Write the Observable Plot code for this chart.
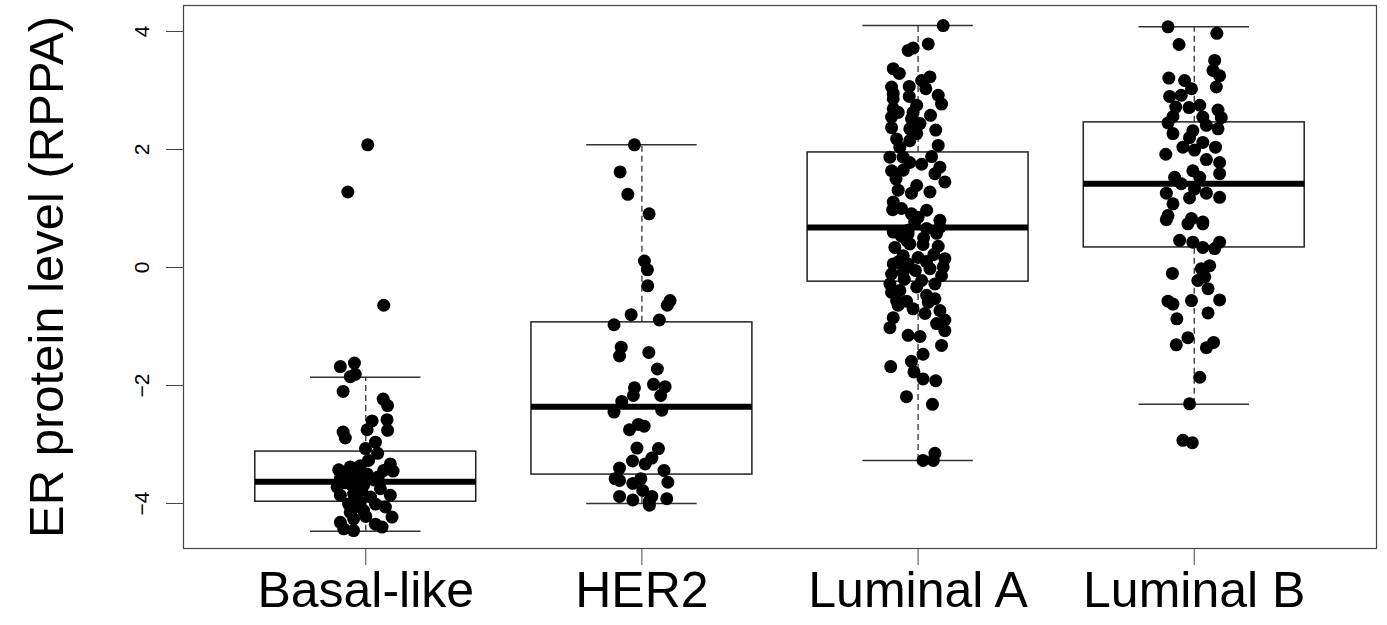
<!DOCTYPE html>
<html><head><meta charset="utf-8">
<script src="https://cdn.jsdelivr.net/npm/d3@7"></script>
<script src="https://cdn.jsdelivr.net/npm/@observablehq/plot@0.6"></script>
<style>body{margin:0;background:#fff} svg{display:block}</style>
</head><body><div id="chart"></div>
<script>
const categories = ["Basal-like", "HER2", "Luminal A", "Luminal B"];
const yTitle = "ER protein level (RPPA)";
const yTicks = [-4, -2, 0, 2, 4];

// box statistics
const whiskerLow  = [-4.47, -4.00, -3.27, -2.32];
const q1          = [-3.97, -3.51, -0.24,  0.34];
const medians     = [-3.63, -2.36,  0.68,  1.42];
const q3          = [-3.12, -0.93,  1.95,  2.46];
const whiskerHigh = [-1.86,  2.08,  4.10,  4.08];

// individual samples: value and horizontal jitter (category units)
const basalValues = [2.08,1.28,-0.64,-1.68,-1.62,-1.85,-1.81,-2.10,-2.23,-2.34,-2.58,-2.60,-2.75,-2.76,-2.79,-2.89,-2.96,-3.07,-3.15,-3.27,-3.33,-3.45,-3.43,-3.38,-3.36,-3.44,-3.58,-3.55,-3.53,-3.50,-3.72,-3.69,-3.69,-3.75,-3.86,-3.84,-3.89,-3.86,-4.01,-3.98,-4.01,-4.06,-4.15,-4.12,-4.23,-4.26,-4.43,-4.46,-4.35,-4.40,-4.32,-3.60,-3.65,-3.78,-3.55,-4.05,-4.22];
const basalJitter = [0.007,-0.065,0.065,-0.092,-0.041,-0.056,-0.038,-0.082,0.063,0.079,0.077,0.023,0.005,0.079,-0.082,-0.074,0.035,-0.001,0.043,0.010,0.089,0.099,-0.098,-0.056,-0.020,0.065,-0.092,-0.068,-0.031,0.005,-0.104,-0.050,-0.008,0.053,-0.092,-0.044,0.017,0.089,-0.062,-0.020,0.035,0.071,-0.056,-0.008,0.095,-0.044,-0.080,-0.044,0.035,0.059,-0.092,0.030,-0.075,-0.015,0.045,-0.035,0.000];

const her2Values = [2.08,1.62,1.24,0.91,0.11,-0.04,-0.31,-0.56,-0.64,-0.80,-0.89,-0.97,-1.35,-1.50,-1.44,-1.72,-2.04,-2.17,-1.98,-2.02,-2.17,-2.27,-2.45,-2.42,-2.66,-2.69,-2.75,-3.06,-3.07,-3.23,-3.28,-3.33,-3.40,-3.44,-3.58,-3.61,-3.66,-3.58,-3.64,-3.78,-3.88,-3.94,-3.96,-3.92,-3.88,-4.03];
const her2Jitter = [-0.027,-0.079,-0.051,0.026,0.009,0.020,0.021,0.102,0.092,-0.039,0.063,-0.101,-0.075,-0.081,0.025,0.056,-0.027,-0.031,0.042,0.084,0.068,-0.073,-0.101,0.072,-0.013,0.008,-0.045,-0.018,0.060,0.036,-0.034,0.012,-0.081,0.080,-0.097,-0.081,-0.033,-0.004,0.094,0.003,-0.081,-0.033,0.027,0.090,0.036,0.027];

const lumAValues = [4.10,3.79,3.68,3.72,3.37,3.29,3.23,3.17,3.06,3.07,3.03,2.92,2.86,2.90,2.77,2.75,2.69,2.63,2.63,2.58,2.55,2.52,2.44,2.37,2.35,2.33,2.27,2.18,2.15,2.07,2.04,1.87,1.87,1.88,1.78,1.75,1.64,1.65,1.70,1.59,1.45,1.39,1.31,1.26,1.28,1.11,0.98,0.97,0.91,0.80,0.77,0.60,0.63,0.66,0.68,0.53,0.57,0.58,0.34,0.40,0.39,0.36,0.20,0.17,0.22,0.15,0.06,0.06,-0.02,0.01,-0.11,-0.08,-0.14,-0.28,-0.22,-0.28,-0.33,-0.42,-0.39,-0.47,-0.53,-0.56,-0.57,-0.59,-0.64,-0.70,-0.73,-0.78,-0.89,-0.85,-0.95,-1.02,-1.07,-1.15,-1.17,-1.32,-1.47,-1.59,-1.68,-1.77,-1.89,-1.92,-2.19,-2.32,-3.15,-3.27,-3.27,1.50,1.00,0.45,0.10,0.85,-0.05,0.50,-0.20,0.10,2.95];
const lumAJitter = [0.091,0.037,-0.036,-0.018,-0.090,-0.068,0.043,0.013,-0.096,-0.032,0.028,0.073,-0.090,-0.032,0.085,-0.005,-0.090,-0.072,-0.018,0.045,-0.096,-0.024,0.007,-0.096,-0.030,0.064,-0.005,-0.078,-0.030,0.073,-0.066,-0.102,-0.054,0.049,-0.030,0.013,-0.096,-0.054,0.079,0.061,0.097,-0.005,-0.072,-0.024,0.043,-0.090,-0.092,0.031,-0.024,0.079,-0.012,-0.090,-0.036,0.031,0.079,-0.060,-0.036,0.067,-0.084,-0.030,0.018,0.073,-0.054,0.000,0.057,0.097,-0.090,-0.036,0.043,0.091,-0.096,-0.054,0.085,-0.102,0.013,0.061,-0.005,-0.096,-0.066,0.031,0.061,-0.078,-0.042,0.037,-0.072,-0.018,0.079,0.025,0.097,-0.090,0.067,-0.102,0.097,-0.036,0.007,0.085,0.018,-0.024,-0.099,-0.015,0.018,0.064,-0.042,0.052,0.061,0.018,0.055,-0.080,-0.060,-0.040,-0.070,0.000,-0.010,0.020,-0.050,0.030,-0.090];

const lumBValues = [4.08,3.97,3.78,3.51,3.34,3.25,3.21,3.17,3.06,3.03,2.90,2.92,2.72,2.71,2.75,2.67,2.56,2.55,2.54,2.45,2.41,2.35,2.32,2.27,2.20,2.12,2.04,2.04,1.99,1.92,1.83,1.78,1.64,1.59,1.53,1.53,1.42,1.33,1.26,1.26,1.19,1.18,1.08,0.88,0.83,0.77,0.81,0.74,0.74,0.46,0.43,0.34,0.43,0.32,0.03,-0.02,-0.10,-0.16,-0.22,-0.36,-0.57,-0.62,-0.56,-0.55,-0.77,-0.87,-1.19,-1.31,-1.27,-1.36,-1.86,-2.31,-2.93,-2.97];
const lumBJitter = [-0.095,0.082,-0.055,0.074,0.068,0.092,-0.092,-0.035,0.080,-0.010,-0.089,-0.047,-0.067,-0.019,0.020,0.086,-0.077,0.031,0.098,-0.095,0.044,0.086,-0.005,-0.077,-0.017,0.031,-0.041,0.077,0.001,-0.103,0.044,0.092,-0.005,0.092,-0.071,0.020,-0.047,0.001,0.044,-0.101,0.092,-0.017,-0.077,-0.095,-0.010,0.031,-0.101,-0.023,0.031,-0.053,-0.005,0.031,0.092,0.074,0.056,0.026,-0.079,0.038,0.013,0.050,-0.095,-0.077,-0.010,0.092,0.050,-0.063,-0.023,-0.065,0.070,0.044,0.020,-0.017,-0.041,-0.007];

const groups = [[basalValues, basalJitter], [her2Values, her2Jitter], [lumAValues, lumAJitter], [lumBValues, lumBJitter]];
const points = groups.flatMap(([vals, jit], g) => vals.map((v, k) => ({pos: g + 1 + jit[k], value: v})));
const stats = categories.map((c, i) => ({i: i + 1, lo: whiskerLow[i], q1: q1[i], med: medians[i], q3: q3[i], hi: whiskerHigh[i]}));

const BOX = 0.4, CAP = 0.2;
const chart = Plot.plot({
  width: 1387, height: 625,
  marginLeft: 183, marginRight: 11, marginTop: 5, marginBottom: 77,
  style: {fontFamily: "'Liberation Sans', Arial, sans-serif", background: "#fff", color: "#000"},
  x: {domain: [0.34, 4.66]},
  y: {domain: [-4.763, 4.441]},
  marks: [
    Plot.ruleX(stats, {x: "i", y1: "q3", y2: "hi", stroke: "#222", strokeWidth: 1.2, strokeDasharray: "6,4"}),
    Plot.ruleX(stats, {x: "i", y1: "lo", y2: "q1", stroke: "#222", strokeWidth: 1.2, strokeDasharray: "6,4"}),
    Plot.ruleY(stats, {y: "hi", x1: d => d.i - CAP, x2: d => d.i + CAP, stroke: "#333", strokeWidth: 1.5}),
    Plot.ruleY(stats, {y: "lo", x1: d => d.i - CAP, x2: d => d.i + CAP, stroke: "#333", strokeWidth: 1.5}),
    Plot.rect(stats, {x1: d => d.i - BOX, x2: d => d.i + BOX, y1: "q1", y2: "q3", fill: "white", stroke: "#222", strokeWidth: 1.5}),
    Plot.ruleY(stats, {y: "med", x1: d => d.i - BOX, x2: d => d.i + BOX, stroke: "#000", strokeWidth: 6}),
    Plot.dot(points, {x: "pos", y: "value", r: 6.5, fill: "#000", stroke: "none"}),
    Plot.frame({stroke: "#444", strokeWidth: 1.2}),
    Plot.axisX({ticks: [1, 2, 3, 4], tickFormat: i => categories[i - 1], tickSize: 17, tickPadding: 6, fontSize: 50, label: null, stroke: "#444"}),
    Plot.axisY({ticks: yTicks, tickSize: 17, tickPadding: 18, tickRotate: -90, fontSize: 21, label: null, stroke: "#444"}),
    Plot.text([yTitle], {frameAnchor: "left", dx: -121, rotate: -90, textAnchor: "middle", lineAnchor: "bottom", fontSize: 49, fill: "#000"})
  ]
});
document.getElementById("chart").appendChild(chart);
</script>
</body></html>
